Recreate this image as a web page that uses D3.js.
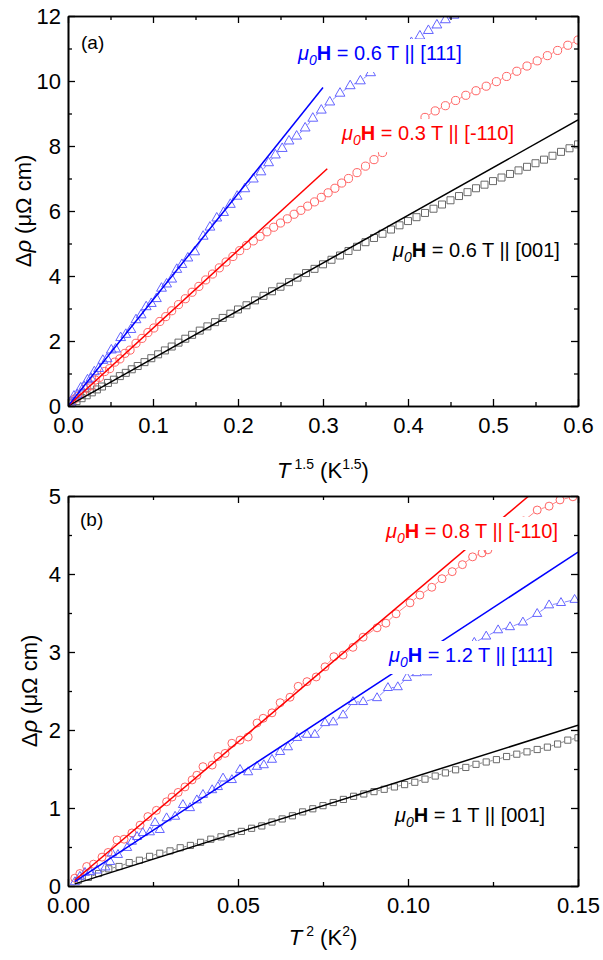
<!DOCTYPE html>
<html>
<head>
<meta charset="utf-8">
<script src="https://cdn.jsdelivr.net/npm/d3@7"></script>
<style>
  body { margin: 0; background: #fff; }
</style>
</head>
<body>
<svg id="chart" width="603" height="960"></svg>
<script>
// ---------- data ----------
// panel (a): x = T^1.5 (K^1.5), y = delta rho (uOhm cm)
const xTicksA = [0, 0.1, 0.2, 0.3, 0.4, 0.5, 0.6];
const xMinorA = [0.05, 0.15, 0.25, 0.35, 0.45, 0.55];
const yTicksA = [0, 2, 4, 6, 8, 10, 12];
const yMinorA = [1, 3, 5, 7, 9, 11];

const blackA = [
  [0.005,0.08],[0.01,0.15],[0.016,0.24],[0.022,0.33],[0.028,0.42],[0.034,0.51],[0.04,0.60],[0.047,0.71],
  [0.054,0.81],[0.061,0.92],[0.068,1.02],[0.075,1.13],[0.082,1.23],[0.09,1.35],[0.098,1.47],[0.106,1.59],
  [0.114,1.71],[0.122,1.83],[0.13,1.95],[0.138,2.07],[0.146,2.19],[0.155,2.32],[0.164,2.45],[0.173,2.58],
  [0.182,2.71],[0.191,2.84],[0.2,2.97],[0.21,3.10],[0.22,3.25],[0.23,3.39],[0.24,3.53],[0.25,3.67],
  [0.26,3.81],[0.27,3.95],[0.28,4.09],[0.29,4.22],[0.3,4.36],[0.31,4.50],[0.32,4.63],[0.33,4.77],
  [0.34,4.90],[0.35,5.04],[0.36,5.17],[0.37,5.30],[0.38,5.43],[0.39,5.56],[0.4,5.69],[0.41,5.81],
  [0.42,5.94],[0.43,6.07],[0.44,6.20],[0.45,6.33],[0.46,6.46],[0.47,6.58],[0.48,6.70],[0.49,6.81],
  [0.5,6.92],[0.51,7.03],[0.52,7.14],[0.53,7.25],[0.54,7.36],[0.55,7.47],[0.56,7.58],[0.57,7.70],
  [0.58,7.82],[0.59,7.93],[0.6,8.05]
];
const redA = [
  [0.004,0.15],[0.008,0.22],[0.012,0.30],[0.017,0.40],[0.022,0.55],[0.027,0.62],[0.032,0.80],[0.037,0.88],
  [0.043,1.06],[0.049,1.15],[0.055,1.35],[0.061,1.45],[0.067,1.62],[0.073,1.72],[0.08,1.93],[0.087,2.08],
  [0.094,2.26],[0.101,2.40],[0.108,2.60],[0.115,2.75],[0.122,2.93],[0.13,3.12],[0.138,3.30],[0.146,3.50],
  [0.154,3.68],[0.162,3.88],[0.17,4.06],[0.178,4.25],[0.186,4.43],[0.194,4.60],[0.202,4.78],[0.21,4.94],
  [0.218,5.08],[0.226,5.22],[0.234,5.36],[0.242,5.50],[0.25,5.63],[0.258,5.76],[0.266,5.90],[0.274,6.02],
  [0.282,6.15],[0.29,6.28],[0.298,6.42],[0.306,6.56],[0.314,6.70],[0.322,6.86],[0.33,7.00],[0.34,7.18],
  [0.35,7.38],[0.36,7.58],[0.37,7.80],[0.38,8.00],[0.39,8.22],[0.40,8.44],[0.41,8.66],[0.42,8.88],
  [0.432,9.08],[0.444,9.24],[0.456,9.40],[0.468,9.56],[0.48,9.70],[0.492,9.84],[0.504,9.98],[0.516,10.14],
  [0.528,10.30],[0.54,10.46],[0.552,10.62],[0.564,10.78],[0.576,10.94],[0.588,11.10],[0.6,11.26]
];
const blueA = [
  [0.003,0.12],[0.007,0.30],[0.011,0.35],[0.015,0.55],[0.019,0.60],[0.023,0.80],[0.027,0.85],[0.031,1.05],
  [0.036,1.15],[0.041,1.40],[0.046,1.45],[0.051,1.72],[0.056,1.75],[0.062,2.10],[0.068,2.20],[0.074,2.35],
  [0.08,2.65],[0.086,2.80],[0.092,3.05],[0.098,3.15],[0.104,3.30],[0.11,3.62],[0.116,3.75],[0.122,3.90],
  [0.128,4.20],[0.134,4.35],[0.141,4.55],[0.149,4.74],[0.159,5.22],[0.167,5.50],[0.175,5.78],[0.183,5.95],
  [0.191,6.20],[0.199,6.45],[0.208,6.68],[0.218,6.98],[0.227,7.20],[0.236,7.48],[0.244,7.72],[0.252,7.92],
  [0.26,8.15],[0.269,8.30],[0.279,8.55],[0.288,8.85],[0.298,9.10],[0.308,9.35],[0.32,9.62],[0.332,9.85],
  [0.344,10.00],[0.356,10.25],[0.368,10.50],[0.38,10.72],[0.392,10.95],[0.404,11.18],[0.414,11.38],
  [0.424,11.55],[0.434,11.72],[0.444,11.88],[0.454,12.02],[0.464,12.15]
];
// linear fits, panel (a)
const blackFitA = [[0, 0], [0.6, 8.8]];
const redFitA = [[0, 0], [0.305, 7.3]];
const blueFitA = [[0, 0], [0.3, 9.8]];

// panel (b): x = T^2 (K^2)
const xTicksB = [0, 0.05, 0.10, 0.15];
const xMinorB = [0.025, 0.075, 0.125];
const yTicksB = [0, 1, 2, 3, 4, 5];
const yMinorB = [0.5, 1.5, 2.5, 3.5, 4.5];

const blackB = [
  [0.003,0.07],[0.006,0.11],[0.009,0.16],[0.012,0.22],[0.015,0.25],[0.018,0.30],[0.021,0.33],[0.024,0.38],
  [0.027,0.42],[0.030,0.45],[0.033,0.49],[0.036,0.52],[0.039,0.56],[0.042,0.60],[0.045,0.63],[0.048,0.67],
  [0.051,0.70],[0.054,0.74],[0.057,0.77],[0.060,0.82],[0.063,0.86],[0.066,0.90],[0.069,0.95],[0.072,0.99],
  [0.075,1.03],[0.078,1.07],[0.081,1.11],[0.084,1.15],[0.087,1.18],[0.090,1.21],[0.093,1.24],[0.096,1.27],
  [0.099,1.30],[0.102,1.33],[0.105,1.37],[0.108,1.41],[0.111,1.45],[0.114,1.49],[0.117,1.52],[0.120,1.56],
  [0.123,1.59],[0.126,1.62],[0.129,1.66],[0.132,1.69],[0.135,1.72],[0.138,1.75],[0.141,1.78],[0.144,1.82],
  [0.147,1.87],[0.150,1.90]
];
const redB = [
  [0.002,0.10],[0.0035,0.16],[0.0055,0.25],[0.0075,0.28],[0.010,0.37],[0.0118,0.43],[0.0144,0.59],[0.0165,0.60],
  [0.0188,0.68],[0.0212,0.78],[0.0235,0.89],[0.026,0.97],[0.029,1.08],[0.0306,1.14],[0.0324,1.20],[0.0344,1.27],
  [0.0365,1.36],[0.0379,1.42],[0.0397,1.53],[0.0424,1.55],[0.0441,1.66],[0.0462,1.70],[0.0482,1.83],[0.0506,1.87],
  [0.053,1.91],[0.0556,2.09],[0.0574,2.15],[0.060,2.22],[0.0624,2.35],[0.0653,2.42],[0.0677,2.56],[0.0703,2.62],
  [0.073,2.68],[0.0756,2.81],[0.0782,2.94],[0.0809,2.96],[0.0838,3.06],[0.0868,3.19],[0.0909,3.31],[0.0935,3.37],
  [0.0965,3.49],[0.1006,3.63],[0.1035,3.73],[0.107,3.83],[0.110,3.94],[0.113,4.03],[0.116,4.12],[0.119,4.22],
  [0.1218,4.27],[0.1235,4.31],[0.127,4.42],[0.1305,4.55],[0.134,4.68],[0.138,4.82],[0.1415,4.87],[0.1447,4.95],
  [0.1485,4.99],[0.152,5.08]
];
const blueB = [
  [0.002,0.05],[0.0035,0.12],[0.005,0.17],[0.0065,0.18],[0.0085,0.20],[0.011,0.24],[0.0124,0.31],[0.0129,0.42],
  [0.0147,0.40],[0.0174,0.49],[0.0188,0.57],[0.0203,0.63],[0.022,0.68],[0.0241,0.69],[0.0256,0.81],[0.027,0.72],
  [0.029,0.87],[0.0315,0.89],[0.0338,1.04],[0.0359,1.00],[0.0379,1.10],[0.0397,1.17],[0.0424,1.23],[0.0441,1.27],
  [0.0456,1.38],[0.0482,1.36],[0.0506,1.49],[0.053,1.46],[0.0556,1.53],[0.0576,1.55],[0.060,1.62],[0.0624,1.72],
  [0.0647,1.78],[0.0674,1.90],[0.0703,1.94],[0.0726,1.94],[0.0756,2.09],[0.078,2.10],[0.0809,2.19],[0.0838,2.36],
  [0.0868,2.36],[0.0909,2.41],[0.0941,2.54],[0.097,2.55],[0.0997,2.67],[0.1026,2.73],[0.1056,2.74],[0.109,2.86],
  [0.1125,2.95],[0.116,3.05],[0.1195,3.12],[0.123,3.20],[0.1265,3.28],[0.130,3.32],[0.1338,3.38],[0.138,3.49],
  [0.1415,3.60],[0.145,3.63],[0.149,3.67]
];
// linear fits, panel (b)
const blackFitB = [[0.002, 0.027], [0.15, 2.06]];
const redFitB = [[0.002, 0.074], [0.1355, 5.0]];
const blueFitB = [[0.002, 0.057], [0.15, 4.28]];

// label texts (field || direction)
const labelTextsA = ["0.6 T || [111]", "0.3 T || [-110]", "0.6 T || [001]"];
const labelTextsB = ["0.8 T || [-110]", "1.2 T || [111]", "1 T || [001]"];

// ---------- drawing ----------
const svg = d3.select("#chart");
const font = "'Liberation Sans', Arial, Helvetica, sans-serif";

const RED = "#ff0000", BLUE = "#0000ff", BLACK = "#000000";
const RED_M = "#ff6464", BLUE_M = "#6464ff", BLACK_M = "#6a6a6a";

const panels = [
  {
    id: "a", tag: "(a)", tagPos: [81, 49],
    box: [68, 16, 578, 406],
    xDomain: [0, 0.6], yDomain: [0, 12],
    xTicks: xTicksA, xMinor: xMinorA, yTicks: yTicksA, yMinor: yMinorA,
    xFmt: d3.format(".1f"), yFmt: d3.format("d"),
    xExp: "1.5", xTitleY: 478, yTitleX: 31,
    series: [
      { data: blackA, color: BLACK_M, shape: d3.symbolSquare, area: 49 },
      { data: redA, color: RED_M, shape: d3.symbolCircle, area: 52 },
      { data: blueA, color: BLUE_M, shape: d3.symbolTriangle, area: 42 }
    ],
    fits: [
      { data: blackFitA, color: BLACK },
      { data: redFitA, color: RED },
      { data: blueFitA, color: BLUE }
    ],
    labels: [
      { text: labelTextsA[0], color: BLUE, x: 298, y: 60 },
      { text: labelTextsA[1], color: RED, x: 342, y: 140 },
      { text: labelTextsA[2], color: BLACK, x: 393, y: 257 }
    ]
  },
  {
    id: "b", tag: "(b)", tagPos: [80, 526],
    box: [68, 496, 578, 886],
    xDomain: [0, 0.15], yDomain: [0, 5],
    xTicks: xTicksB, xMinor: xMinorB, yTicks: yTicksB, yMinor: yMinorB,
    xFmt: d3.format(".2f"), yFmt: d3.format("d"),
    xExp: "2", xTitleY: 945, yTitleX: 37,
    series: [
      { data: blackB, color: BLACK_M, shape: d3.symbolSquare, area: 38 },
      { data: redB, color: RED_M, shape: d3.symbolCircle, area: 50 },
      { data: blueB, color: BLUE_M, shape: d3.symbolTriangle, area: 36 }
    ],
    fits: [
      { data: blackFitB, color: BLACK },
      { data: redFitB, color: RED },
      { data: blueFitB, color: BLUE }
    ],
    labels: [
      { text: labelTextsB[0], color: RED, x: 386, y: 538 },
      { text: labelTextsB[1], color: BLUE, x: 389, y: 662 },
      { text: labelTextsB[2], color: BLACK, x: 395, y: 822 }
    ]
  }
];

function drawSeries(plot, s, x, y) {
  const pts = s.data.map(d => [x(d[0]), y(d[1])]);
  const gap = Math.sqrt(s.area / Math.PI) + 0.5;

  // thin joining line, broken at each marker
  const segs = d3.pairs(pts).map(([a, c]) => {
    const dx = c[0] - a[0], dy = c[1] - a[1];
    const len = Math.hypot(dx, dy);
    if (len <= 2 * gap + 0.8) return null;
    const ux = dx / len, uy = dy / len;
    return [a[0] + ux * gap, a[1] + uy * gap, c[0] - ux * gap, c[1] - uy * gap];
  }).filter(Boolean);

  plot.append("g").selectAll("line")
    .data(segs)
    .join("line")
    .attr("x1", d => d[0]).attr("y1", d => d[1])
    .attr("x2", d => d[2]).attr("y2", d => d[3])
    .attr("stroke", s.color)
    .attr("stroke-width", 0.8);

  plot.append("g").selectAll("path")
    .data(pts)
    .join("path")
    .attr("transform", d => `translate(${d[0]},${d[1]})`)
    .attr("d", d3.symbol(s.shape, s.area))
    .attr("fill", "none")
    .attr("stroke", s.color)
    .attr("stroke-width", 1);
}

function drawLabel(g, lb) {
  const text = g.append("text")
    .attr("x", lb.x)
    .attr("y", lb.y)
    .attr("fill", lb.color)
    .attr("font-family", font)
    .attr("font-size", 20);
  text.append("tspan").attr("font-style", "italic").text("μ");
  text.append("tspan").attr("font-style", "italic").attr("font-size", 14).attr("dy", 5).text("0");
  text.append("tspan").attr("font-weight", "bold").attr("dy", -5).text("H");
  text.append("tspan").text(" = " + lb.text);

  // white box behind the label hides the data under it
  const bb = text.node().getBBox();
  g.insert("rect", () => text.node())
    .attr("x", bb.x - 4)
    .attr("y", bb.y - 3)
    .attr("width", bb.width + 8)
    .attr("height", bb.height + 7)
    .attr("fill", "#fff");
}

function styleAxis(sel) {
  sel.select(".domain").attr("stroke", "#000").attr("stroke-width", 1.6);
  sel.selectAll(".tick line").attr("stroke", "#000").attr("stroke-width", 1.3);
  sel.selectAll(".tick text")
    .attr("font-family", font)
    .attr("font-size", 22)
    .attr("fill", "#000");
}

function drawPanel(p) {
  const [l, t, r, b] = p.box;
  const x = d3.scaleLinear().domain(p.xDomain).range([l, r]);
  const y = d3.scaleLinear().domain(p.yDomain).range([b, t]);
  const g = svg.append("g");

  const clipId = "clip-" + p.id;
  svg.append("clipPath").attr("id", clipId)
    .append("rect")
    .attr("x", l).attr("y", t)
    .attr("width", r - l).attr("height", b - t);

  const plot = g.append("g").attr("clip-path", `url(#${clipId})`);
  p.series.forEach(s => drawSeries(plot, s, x, y));

  const line = d3.line().x(d => x(d[0])).y(d => y(d[1]));
  p.fits.forEach(f => {
    plot.append("path")
      .attr("d", line(f.data))
      .attr("fill", "none")
      .attr("stroke", f.color)
      .attr("stroke-width", 1.5);
  });

  p.labels.forEach(lb => drawLabel(g, lb));

  // axes: ticks point inward on all four sides
  g.append("g").attr("transform", `translate(0,${b})`)
    .call(d3.axisBottom(x).tickValues(p.xTicks).tickFormat(p.xFmt).tickSizeInner(-7).tickSizeOuter(0).tickPadding(11))
    .call(styleAxis);
  g.append("g").attr("transform", `translate(0,${b})`)
    .call(d3.axisBottom(x).tickValues(p.xMinor).tickFormat("").tickSizeInner(-4).tickSizeOuter(0))
    .call(styleAxis);
  g.append("g").attr("transform", `translate(0,${t})`)
    .call(d3.axisTop(x).tickValues(p.xTicks).tickFormat("").tickSizeInner(-7).tickSizeOuter(0))
    .call(styleAxis);
  g.append("g").attr("transform", `translate(0,${t})`)
    .call(d3.axisTop(x).tickValues(p.xMinor).tickFormat("").tickSizeInner(-4).tickSizeOuter(0))
    .call(styleAxis);
  g.append("g").attr("transform", `translate(${l},0)`)
    .call(d3.axisLeft(y).tickValues(p.yTicks).tickFormat(p.yFmt).tickSizeInner(-7).tickSizeOuter(0).tickPadding(7))
    .call(styleAxis);
  g.append("g").attr("transform", `translate(${l},0)`)
    .call(d3.axisLeft(y).tickValues(p.yMinor).tickFormat("").tickSizeInner(-4).tickSizeOuter(0))
    .call(styleAxis);
  g.append("g").attr("transform", `translate(${r},0)`)
    .call(d3.axisRight(y).tickValues(p.yTicks).tickFormat("").tickSizeInner(-7).tickSizeOuter(0))
    .call(styleAxis);
  g.append("g").attr("transform", `translate(${r},0)`)
    .call(d3.axisRight(y).tickValues(p.yMinor).tickFormat("").tickSizeInner(-4).tickSizeOuter(0))
    .call(styleAxis);

  // panel tag
  g.append("text")
    .attr("x", p.tagPos[0]).attr("y", p.tagPos[1])
    .attr("font-family", font).attr("font-size", 19)
    .text(p.tag);

  // x title: T^n (K^n)
  const xt = g.append("text")
    .attr("x", (l + r) / 2).attr("y", p.xTitleY)
    .attr("text-anchor", "middle")
    .attr("font-family", font).attr("font-size", 22);
  xt.append("tspan").attr("font-style", "italic").text("T");
  xt.append("tspan").attr("font-size", 14).attr("dx", 4).attr("dy", -9).text(p.xExp);
  xt.append("tspan").attr("dy", 9).text(" (K");
  xt.append("tspan").attr("font-size", 14).attr("dy", -9).text(p.xExp);
  xt.append("tspan").attr("dy", 9).text(")");

  // y title: delta rho (uOhm cm)
  const yt = g.append("text")
    .attr("transform", `translate(${p.yTitleX},${(t + b) / 2}) rotate(-90)`)
    .attr("text-anchor", "middle")
    .attr("font-family", font).attr("font-size", 22);
  yt.append("tspan").text("Δ");
  yt.append("tspan").attr("font-style", "italic").text("ρ");
  yt.append("tspan").text(" (μΩ cm)");
}

panels.forEach(drawPanel);
</script>
</body>
</html>
